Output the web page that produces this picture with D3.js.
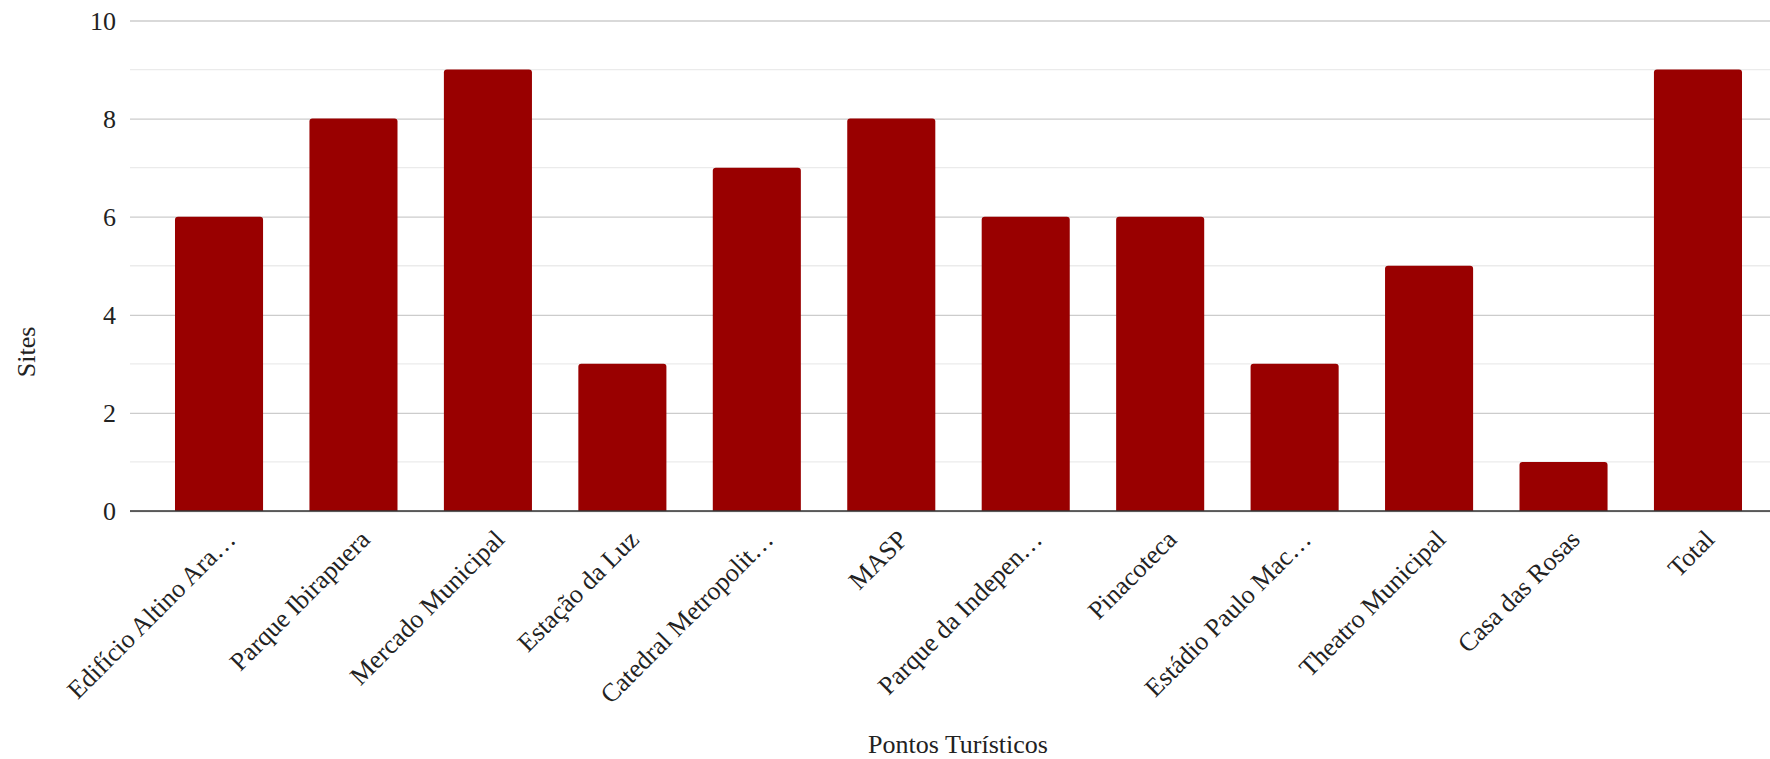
<!DOCTYPE html>
<html>
<head>
<meta charset="utf-8">
<script src="https://cdn.jsdelivr.net/npm/d3@7"></script>
<style>
  html, body { margin: 0; padding: 0; background: #fff; }
  svg { display: block; }
  text { font-family: "Liberation Serif", "Times New Roman", serif; fill: #222; }
</style>
</head>
<body>
<svg id="chart" width="1770" height="759"></svg>
<script>
const categories = [
  "Edifício Altino Ara…",
  "Parque Ibirapuera",
  "Mercado Municipal",
  "Estação da Luz",
  "Catedral Metropolit…",
  "MASP",
  "Parque da Indepen…",
  "Pinacoteca",
  "Estádio Paulo Mac…",
  "Theatro Municipal",
  "Casa das Rosas",
  "Total"
];
const values = [6, 8, 9, 3, 7, 8, 6, 6, 3, 5, 1, 9];
const majorTicks = [0, 2, 4, 6, 8, 10];
const minorTicks = [1, 3, 5, 7, 9];
const xTitle = "Pontos Turísticos";
const yTitle = "Sites";

const svg = d3.select("#chart");
const plotLeft = 130, plotRight = 1770, plotTop = 20.5, plotBottom = 511;

const x = d3.scaleBand()
  .domain(categories)
  .range([151.8, 1765.2])
  .paddingInner(0.345)
  .paddingOuter(0.1725);

const y = d3.scaleLinear().domain([0, 10]).range([plotBottom, plotTop]);

// minor gridlines
svg.append("g").selectAll("line").data(minorTicks).join("line")
  .attr("x1", plotLeft).attr("x2", plotRight)
  .attr("y1", d => y(d)).attr("y2", d => y(d))
  .attr("stroke", "#ebebeb").attr("stroke-width", 1.3);

// major gridlines + labels via axis
const yAxis = d3.axisLeft(y).tickValues(majorTicks).tickSize(-(plotRight - plotLeft)).tickPadding(14).tickFormat(d3.format("d"));
const gy = svg.append("g").attr("transform", `translate(${plotLeft},0)`).call(yAxis);
gy.select(".domain").remove();
gy.selectAll(".tick line").attr("stroke", "#cccccc").attr("stroke-width", 1.3);
gy.selectAll(".tick text")
  .attr("font-size", 26)
  .attr("font-family", "Liberation Serif, serif")
  .attr("fill", "#222")
  .attr("dy", "0.33em");

// bars with slightly rounded tops
const r = 3;
svg.append("g").selectAll("path").data(values).join("path")
  .attr("fill", "#990000")
  .attr("d", (d, i) => {
    const x0 = x(categories[i]), w = x.bandwidth();
    const yt = y(d), yb = y(0);
    return `M${x0},${yb} L${x0},${yt + r} Q${x0},${yt} ${x0 + r},${yt} L${x0 + w - r},${yt} Q${x0 + w},${yt} ${x0 + w},${yt + r} L${x0 + w},${yb} Z`;
  });

// baseline
svg.append("line")
  .attr("x1", plotLeft).attr("x2", plotRight)
  .attr("y1", y(0)).attr("y2", y(0))
  .attr("stroke", "#333").attr("stroke-width", 1.5);

// x axis slanted labels
const xAxis = d3.axisBottom(x).tickSize(0).tickPadding(0);
const gx = svg.append("g").call(xAxis);
gx.select(".domain").remove();
gx.selectAll(".tick").attr("transform", null);
gx.selectAll(".tick text")
  .attr("font-size", 26)
  .attr("font-family", "Liberation Serif, serif")
  .attr("fill", "#222")
  .attr("text-anchor", "end")
  .attr("dy", null)
  .attr("y", null)
  .attr("transform", d => {
    const px = x(d) + x.bandwidth() / 2 + 18, py = 541;
    return `translate(${px},${py}) rotate(-45)`;
  });

// axis titles
svg.append("text")
  .attr("x", 958).attr("y", 753)
  .attr("text-anchor", "middle")
  .attr("font-size", 26)
  .text(xTitle);

svg.append("text")
  .attr("transform", "translate(35,352) rotate(-90)")
  .attr("text-anchor", "middle")
  .attr("font-size", 26)
  .text(yTitle);
</script>
</body>
</html>
